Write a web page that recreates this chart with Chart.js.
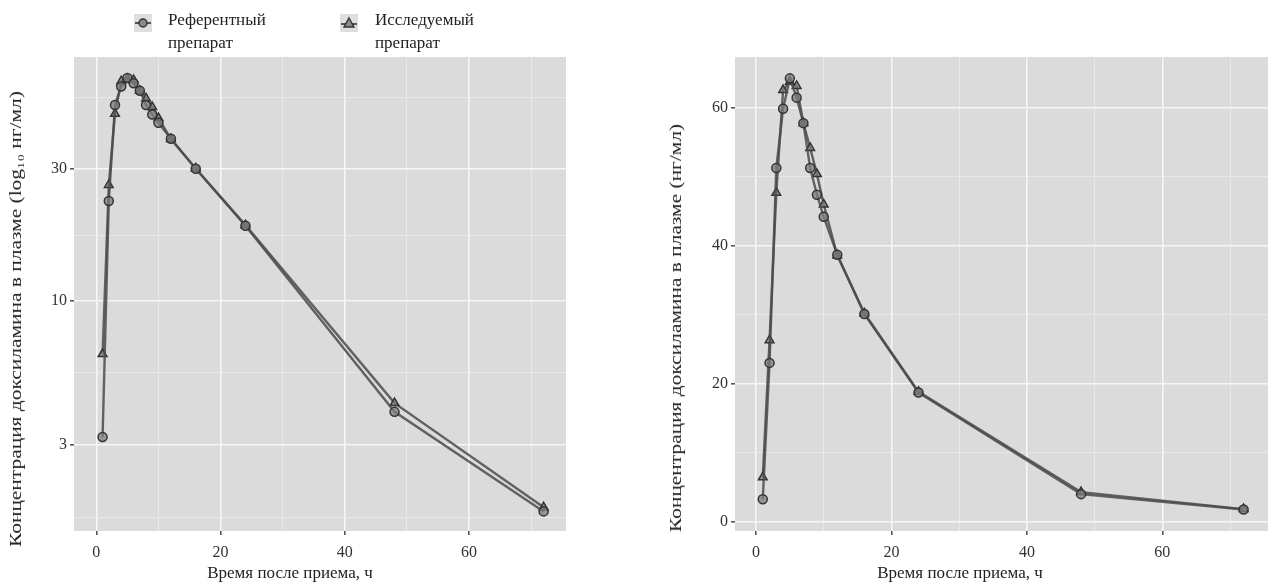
<!DOCTYPE html>
<html>
<head>
<meta charset="utf-8">
<script src="https://cdn.jsdelivr.net/npm/chart.js@4.4.1/dist/chart.umd.min.js"></script>
<style>
  body { margin: 0; background: #fff; width: 1276px; height: 582px; overflow: hidden; position: relative;
         font-family: "Liberation Serif", "DejaVu Serif", serif; color: #222; }
  canvas { position: absolute; top: 0; }
  #left { left: 0; }
  #right { left: 640px; }
  .key { position: absolute; top: 14px; }
  .leg { position: absolute; top: 8px; font-size: 17px; line-height: 23px; }
  .xtitle { position: absolute; top: 573px; font-size: 17px; white-space: nowrap; transform: translate(-50%, -50%); }
  .ytitle { position: absolute; font-size: 17px; white-space: nowrap;
            transform: translate(-50%, -50%) rotate(-90deg) scaleX(1.26); }
</style>
</head>
<body>

<canvas id="left" width="640" height="582"></canvas>
<canvas id="right" width="636" height="582"></canvas>

<div class="key" style="left:134px">
  <svg width="18" height="18"><rect width="18" height="18" fill="#dedede"/>
    <line x1="1" y1="9" x2="17" y2="9" stroke="#555" stroke-width="2"/>
    <circle cx="9" cy="9" r="4" fill="#8a8a8a" stroke="#333" stroke-width="1.4"/></svg>
</div>
<div class="leg" style="left:168px">Референтный<br>препарат</div>
<div class="key" style="left:340px">
  <svg width="18" height="18"><rect width="18" height="18" fill="#dedede"/>
    <line x1="1" y1="10" x2="17" y2="10" stroke="#555" stroke-width="2"/>
    <polygon points="9,4 14,13 4,13" fill="#8a8a8a" stroke="#333" stroke-width="1.4"/></svg>
</div>
<div class="leg" style="left:375px">Исследуемый<br>препарат</div>

<div class="ytitle" style="left:16px; top:319px">Концентрация доксиламина в плазме (log₁₀ нг/мл)</div>
<div class="ytitle" style="left:676px; top:328px">Концентрация доксиламина в плазме (нг/мл)</div>
<div class="xtitle" style="left:290px">Время после приема, ч</div>
<div class="xtitle" style="left:960px">Время после приема, ч</div>

<script>
// время отбора проб, ч
var times = [1, 2, 3, 4, 5, 6, 7, 8, 9, 10, 12, 16, 24, 48, 72];
// средние концентрации, нг/мл
var refConc  = [3.2, 23.0, 51.3, 59.9, 64.3, 61.5, 57.8, 51.3, 47.4, 44.2, 38.7, 30.1, 18.7, 3.95, 1.72];
var testConc = [6.4, 26.3, 47.7, 62.6, 63.8, 63.2, 57.8, 54.2, 50.4, 46.0, 38.6, 30.2, 18.8, 4.25, 1.78];

var seriesNames = ['Референтный препарат', 'Исследуемый препарат'];

var xMajor = [0, 20, 40, 60];
var xMinor = [10, 30, 50, 70];
var yLogMajor = [3, 10, 30];
var yLogMinor = [1.64, 5.48, 17.3, 54.8];
var yLinMajor = [0, 20, 40, 60];
var yLinMinor = [10, 30, 50];

var font = '"Liberation Serif", "DejaVu Serif", serif';

// серый фон панели, как в ggplot
var panelBg = {
  id: 'panelBg',
  beforeDraw: function(chart) {
    var a = chart.chartArea, ctx = chart.ctx;
    ctx.save();
    ctx.fillStyle = '#dbdbdb';
    ctx.fillRect(a.left, a.top, a.right - a.left, a.bottom - a.top);
    ctx.restore();
  }
};

function points(ys) {
  return times.map(function(t, i) { return { x: t, y: ys[i] }; });
}

function sorted(a, b) {
  return a.concat(b).sort(function(p, q) { return p - q; }).map(function(v) { return { value: v }; });
}

function gridFor(major) {
  var isMajor = function(c) { return c.tick && major.indexOf(c.tick.value) >= 0; };
  return {
    color: function(c) { return isMajor(c) ? '#f6f6f6' : '#ebebeb'; },
    lineWidth: function(c) { return isMajor(c) ? 1.6 : 0.8; },
    tickColor: function(c) { return isMajor(c) ? '#555' : 'rgba(0,0,0,0)'; },
    tickLength: 4,
    drawTicks: true
  };
}

function datasets() {
  return [{
    label: seriesNames[0],
    data: points(refConc),
    borderColor: 'rgba(75,75,75,0.85)',
    borderWidth: 2.4,
    pointStyle: 'circle',
    pointRadius: 4.5,
    pointBackgroundColor: 'rgba(125,125,125,0.75)',
    pointBorderColor: '#333',
    pointBorderWidth: 1.5
  }, {
    label: seriesNames[1],
    data: points(testConc),
    borderColor: 'rgba(75,75,75,0.85)',
    borderWidth: 2.4,
    pointStyle: 'triangle',
    pointRadius: 5,
    pointBackgroundColor: 'rgba(125,125,125,0.75)',
    pointBorderColor: '#333',
    pointBorderWidth: 1.5
  }];
}

function makeChart(id, yScale, yAxisWidth, padRight, xMin, xMax) {
  return new Chart(document.getElementById(id), {
    type: 'line',
    data: { datasets: datasets() },
    plugins: [panelBg],
    options: {
      responsive: false,
      animation: false,
      layout: { padding: { top: 57, right: padRight, bottom: 0, left: 0 } },
      plugins: { legend: { display: false }, tooltip: { enabled: false } },
      scales: {
        x: {
          type: 'linear',
          min: xMin, max: xMax,
          afterBuildTicks: function(s) { s.ticks = sorted(xMajor, xMinor); },
          afterFit: function(s) { s.height = 51; },
          ticks: {
            padding: 8,
            color: '#333',
            font: { family: font, size: 16 },
            maxRotation: 0,
            autoSkip: false,
            callback: function(v) { return xMajor.indexOf(v) >= 0 ? String(v) : ''; }
          },
          grid: gridFor(xMajor),
          border: { display: false }
        },
        y: Object.assign({
          afterFit: function(s) { s.width = yAxisWidth; },
          border: { display: false }
        }, yScale)
      }
    }
  });
}

makeChart('left', {
  type: 'logarithmic',
  min: 1.46, max: 76.6,
  afterBuildTicks: function(s) { s.ticks = sorted(yLogMajor, yLogMinor); },
  ticks: {
    padding: 3, color: '#333', font: { family: font, size: 16 }, autoSkip: false,
    callback: function(v) { return yLogMajor.indexOf(v) >= 0 ? String(v) : ''; }
  },
  grid: gridFor(yLogMajor)
}, 74, 74, -3.6, 75.6);

makeChart('right', {
  type: 'linear',
  min: -1.4, max: 67.4,
  afterBuildTicks: function(s) { s.ticks = sorted(yLinMajor, yLinMinor); },
  ticks: {
    padding: 3, color: '#333', font: { family: font, size: 16 }, autoSkip: false,
    callback: function(v) { return yLinMajor.indexOf(v) >= 0 ? String(v) : ''; }
  },
  grid: gridFor(yLinMajor)
}, 95, 8, -3.1, 75.6);
</script>
</body>
</html>
